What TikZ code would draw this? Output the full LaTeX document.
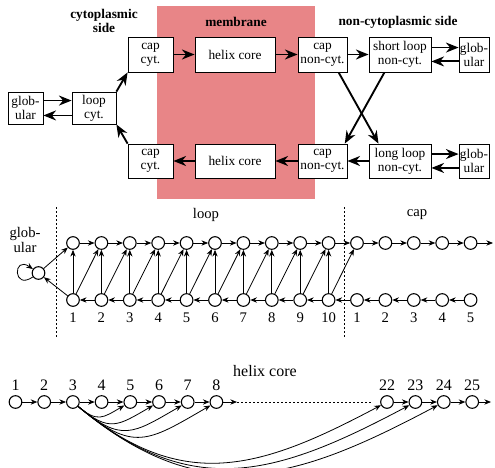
\documentclass[tikz,border=0pt]{standalone}
\usepackage{fontspec}
\setmainfont{Liberation Serif}
\usetikzlibrary{arrows.meta}
\definecolor{membranepink}{RGB}{232,133,135}

\begin{document}
\begin{tikzpicture}[
x=0.75pt, y=-0.75pt,
box/.style={
draw,
line width=0.6pt,
fill=white,
align=center,
inner sep=0.5pt,
font=\fontsize{10}{10.5}\selectfont
},
bigarrow/.style={-{Stealth[length=9.5pt,width=7.5pt]}, line width=1.4pt},
state/.style={circle, draw, line width=0.8pt, minimum size=9.5pt, inner sep=0pt},
link/.style={-{Stealth[length=5pt,width=4pt]}, line width=0.6pt},
side/.style={font=\bfseries\fontsize{10}{11}\selectfont, align=center},
num/.style={font=\fontsize{11}{11}\selectfont, inner sep=0pt},
bignum/.style={font=\fontsize{12}{12}\selectfont, inner sep=0pt}
]
\useasboundingbox (0,0) rectangle (495,467);

% membrane area
\fill[membranepink] (157,6) rectangle (315,199);

\node[side] (cytlab) at (104,21) {cytoplasmic\\side};
\node[side] (memlab) at (236,22) {membrane};
\node[side] (noncytlab) at (398,22) {non-cytoplasmic side};

% model architecture
\node[box, minimum width=26.25pt, minimum height=24pt] (glob) at (25.5,108) {glob-\\ular};
\node[box, minimum width=33pt, minimum height=24pt] (loopc) at (94,108) {loop\\cyt.};
\node[box, minimum width=33.75pt, minimum height=26.25pt] (capc1) at (150.5,54.5) {cap\\cyt.};
\node[box, minimum width=33.75pt, minimum height=25.5pt] (capc2) at (150.5,161) {cap\\cyt.};
\node[box, minimum width=60pt, minimum height=26.25pt] (helix1) at (235,54.5) {helix core};
\node[box, minimum width=60pt, minimum height=25.5pt] (helix2) at (235,161) {helix core};
\node[box, minimum width=36.75pt, minimum height=26.25pt] (capn1) at (322.5,54.5) {cap\\non-cyt.};
\node[box, minimum width=36.75pt, minimum height=25.5pt] (capn2) at (322.5,161) {cap\\non-cyt.};
\node[box, minimum width=46.5pt, minimum height=26.25pt] (sloop) at (400,54.5) {short loop\\non-cyt.};
\node[box, minimum width=46.5pt, minimum height=25.5pt] (lloop) at (400,161) {long loop\\non-cyt.};
\node[box, minimum width=22.5pt, minimum height=26.25pt] (globn1) at (474,54.5) {glob-\\ular};
\node[box, minimum width=22.5pt, minimum height=25.5pt] (globn2) at (474,161) {glob-\\ular};

\draw[bigarrow] ([yshift=5.6pt]glob.east) -- ([yshift=5.6pt]loopc.west);
\draw[bigarrow] ([yshift=-5.6pt]loopc.west) -- ([yshift=-5.6pt]glob.east);
\draw[bigarrow] (loopc.north east) -- (capc1.south west);
\draw[bigarrow] (capc2.north west) -- (loopc.south east);
\draw[bigarrow] (capc1) -- (helix1);
\draw[bigarrow] (helix1) -- (capn1);
\draw[bigarrow] (capn1) -- (sloop);
\draw[bigarrow] ([yshift=5.2pt]sloop.east) -- ([yshift=5.2pt]globn1.west);
\draw[bigarrow] ([yshift=-5.2pt]globn1.west) -- ([yshift=-5.2pt]sloop.east);
\draw[bigarrow] (capn1.-48) -- (lloop.141);
\draw[bigarrow] (sloop.-131) -- (capn2.38);
\draw[bigarrow] ([yshift=5.2pt]lloop.east) -- ([yshift=5.2pt]globn2.west);
\draw[bigarrow] ([yshift=-5.2pt]globn2.west) -- ([yshift=-5.2pt]lloop.east);
\draw[bigarrow] (lloop) -- (capn2);
\draw[bigarrow] (capn2) -- (helix2);
\draw[bigarrow] (helix2) -- (capc2);

% loop and cap states
\draw[dash pattern=on 1.5pt off 1.5pt, line width=0.4pt] (56,207) -- (56,337);
\draw[dash pattern=on 1.5pt off 1.5pt, line width=0.4pt] (344,207) -- (344,337);
\node[num] (looplab) at (206,215) {loop};
\node[num] (caplab) at (417,215) {cap};
\node[num, align=center, font=\fontsize{11}{11.25}\selectfont] (globlab) at (25,240) {glob-\\ular};

\node[state] (g) at (38.5,273) {};
\draw[link] (g) to[out=215, in=145, looseness=8] (g);

\foreach \i in {1,...,10} {
\node[state] (t\i) at ({73+28.4*(\i-1)},243) {};
\node[state] (b\i) at ({73+28.4*(\i-1)},300) {};
\node[num] (lb\i) at ({73+28.4*(\i-1)},318) {\i};
}
\foreach \i in {1,...,5} {
\node[state] (ct\i) at ({357+28.4*(\i-1)},243) {};
\node[state] (cb\i) at ({357+28.4*(\i-1)},300) {};
\node[num] (cl\i) at ({357+28.4*(\i-1)},318) {\i};
}
\coordinate (capout) at (493,243);

\draw[link] (g) -- (t1);
\draw[link] (b1) -- (g);
\foreach \i [evaluate=\i as \j using int(\i+1)] in {1,...,9} {
\draw[link] (t\i) -- (t\j);
\draw[link] (b\j) -- (b\i);
\draw[link] (b\i) -- (t\j);
}
\foreach \i in {1,...,10}
\draw[link] (b\i) -- (t\i);
\draw[link] (t10) -- (ct1);
\draw[link] (cb1) -- (b10);
\draw[link] (b10) -- (ct1);
\foreach \i [evaluate=\i as \j using int(\i+1)] in {1,...,4} {
\draw[link] (ct\i) -- (ct\j);
\draw[link] (cb\j) -- (cb\i);
}
\draw[link] (ct5) -- (capout);

% helix core states
\node[bignum] (helixlab) at (265,371) {helix core};
\foreach \i in {1,...,8} {
\node[state] (h\i) at ({15.5+28.7*(\i-1)},402) {};
\node[bignum] (hl\i) at ({15.5+28.7*(\i-1)},385) {\i};
}
\foreach \i in {22,...,25} {
\node[state] (h\i) at ({387+28.4*(\i-22)},402) {};
\node[bignum] (hl\i) at ({387+28.4*(\i-22)},385) {\i};
}
\coordinate (gapl) at (237,402);
\coordinate (gapr) at (372,402);
\coordinate (helixout) at (491,402);

\foreach \i [evaluate=\i as \j using int(\i+1)] in {1,...,7}
\draw[link] (h\i) -- (h\j);
\draw[link] (h8) -- (gapl);
\draw[dash pattern=on 1.5pt off 1.5pt, line width=0.4pt] (gapl) -- (gapr);
\draw[link] (h22) -- (h23);
\draw[link] (h23) -- (h24);
\draw[link] (h24) -- (h25);
\draw[link] (h25) -- (helixout);

\foreach \k in {5,6,7,8}
\draw[link] (h3) to[out=-40, in=-150, looseness=1.4] (h\k);
\foreach \k in {22,23,24}
\draw[link] (h3) to[out=-40, in=-152, looseness=1.15] (h\k);

\end{tikzpicture}
\end{document}
